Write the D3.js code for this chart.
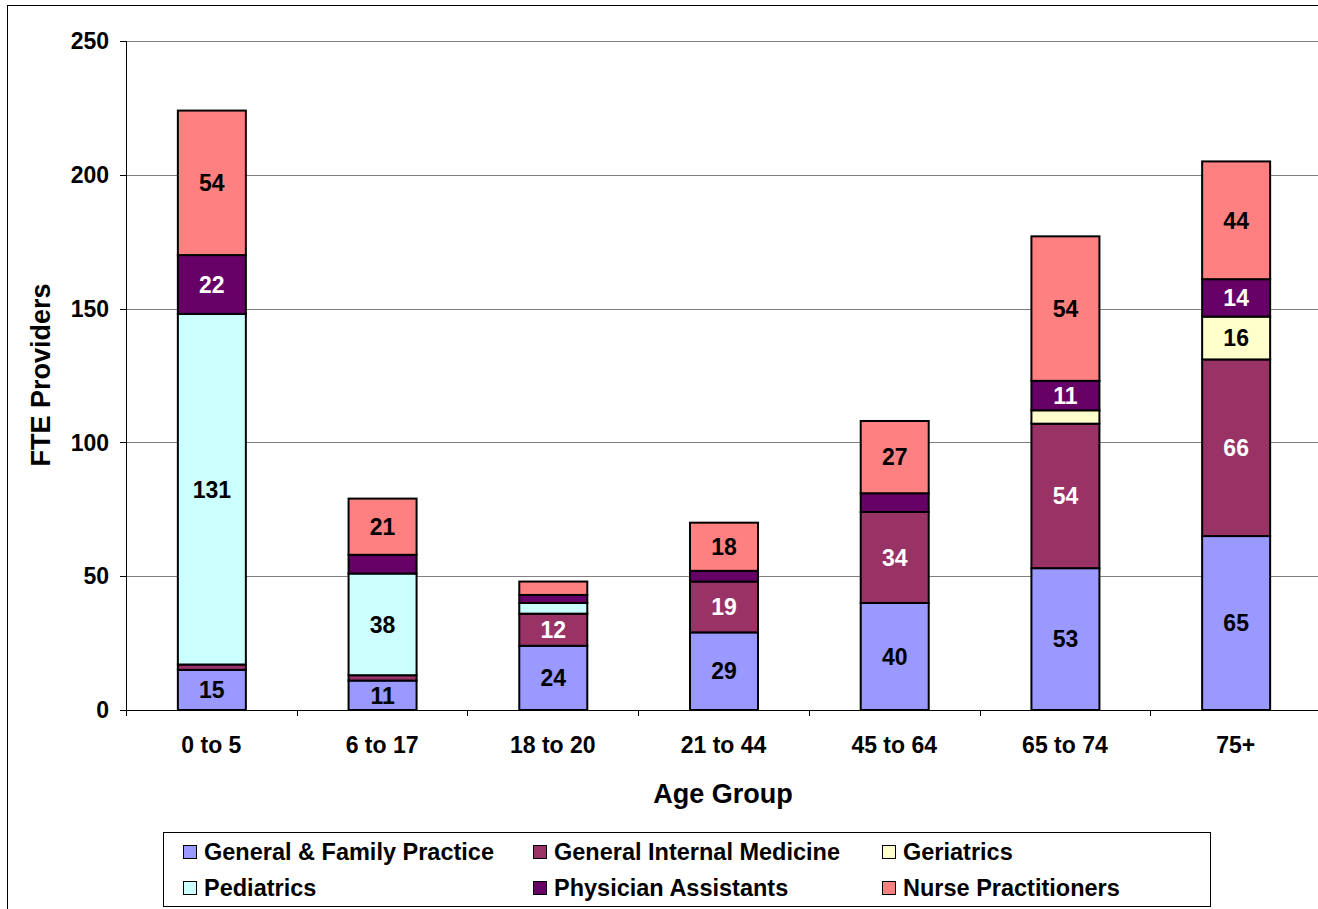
<!DOCTYPE html>
<html>
<head>
<meta charset="utf-8">
<script src="https://cdn.jsdelivr.net/npm/d3@7"></script>
<style>
  html, body { margin: 0; padding: 0; background: #fff; }
  svg { display: block; font-family: "Liberation Sans", Arial, sans-serif; font-weight: bold; }
</style>
</head>
<body>
<svg id="chart" width="1318" height="909"></svg>
<script>
// Age groups along the x axis
const ageGroups = ["0 to 5", "6 to 17", "18 to 20", "21 to 44", "45 to 64", "65 to 74", "75+"];

// FTE providers per specialty, one value per age group
const generalFamily   = [15, 11, 24, 29, 40, 53, 65];
const generalInternal = [2, 2, 12, 19, 34, 54, 66];
const geriatrics      = [0, 0, 0, 0, 0, 5, 16];
const pediatrics      = [131, 38, 4, 0, 0, 0, 0];
const physicianAsst   = [22, 7, 3, 4, 7, 11, 14];
const nursePract      = [54, 21, 5, 18, 27, 54, 44];

const yTicks = [0, 50, 100, 150, 200, 250];

const seriesDefs = [
  { key: "General & Family Practice", values: generalFamily,   color: "#9999FF", text: "#000" },
  { key: "General Internal Medicine", values: generalInternal, color: "#993366", text: "#fff" },
  { key: "Geriatrics",                values: geriatrics,      color: "#FFFFCC", text: "#000" },
  { key: "Pediatrics",                values: pediatrics,      color: "#CCFFFF", text: "#000" },
  { key: "Physician Assistants",      values: physicianAsst,   color: "#660066", text: "#fff" },
  { key: "Nurse Practitioners",       values: nursePract,      color: "#FF8080", text: "#000" }
];

const rows = ageGroups.map((g, i) => {
  const r = { group: g };
  seriesDefs.forEach(s => { r[s.key] = s.values[i]; });
  return r;
});

const svg = d3.select("#chart");
const labelSize = 23;
const legendSize = 23.5;
const titleSize = 27;

// Outer chart frame
svg.append("rect")
  .attr("x", 7.5).attr("y", 5.5)
  .attr("width", 1330).attr("height", 920)
  .attr("fill", "none").attr("stroke", "#000").attr("stroke-width", 1);

const plot = { left: 126, top: 41, right: 1321, bottom: 710 };

const x = d3.scaleBand()
  .domain(ageGroups)
  .range([plot.left, plot.right])
  .paddingInner(0.6)
  .paddingOuter(0.3);

const xBoundary = d3.scaleBand().domain(ageGroups).range([plot.left, plot.right]);

const y = d3.scaleLinear().domain([0, 250]).range([plot.bottom, plot.top]);

// Horizontal gridlines
svg.append("g")
  .selectAll("line")
  .data(yTicks.filter(t => t > 0))
  .join("line")
  .attr("x1", plot.left).attr("x2", plot.right)
  .attr("y1", d => Math.round(y(d)) + 0.5).attr("y2", d => Math.round(y(d)) + 0.5)
  .attr("stroke", "#808080").attr("stroke-width", 1);

// Stacked bars
const stack = d3.stack().keys(seriesDefs.map(s => s.key));
const stacked = stack(rows);

const barW = 68;
const layers = svg.append("g").selectAll("g")
  .data(stacked)
  .join("g")
  .attr("fill", (d, i) => seriesDefs[i].color);

layers.selectAll("rect")
  .data(d => d.filter(p => p[1] - p[0] > 0))
  .join("rect")
  .attr("x", d => x(d.data.group) + x.bandwidth() / 2 - barW / 2 + 0.5)
  .attr("width", barW)
  .attr("y", d => y(d[1]))
  .attr("height", d => y(d[0]) - y(d[1]))
  .attr("stroke", "#000").attr("stroke-width", 2);

// Value labels inside segments
stacked.forEach((layer, i) => {
  const def = seriesDefs[i];
  svg.append("g").selectAll("text")
    .data(layer.filter(p => p[1] - p[0] >= 10))
    .join("text")
    .attr("x", d => x(d.data.group) + x.bandwidth() / 2 + 0.5)
    .attr("y", d => (y(d[0]) + y(d[1])) / 2)
    .attr("dy", "0.36em")
    .attr("text-anchor", "middle")
    .attr("font-size", labelSize)
    .attr("fill", def.text)
    .text(d => d.data[def.key]);
});

// Y axis
const yAxis = svg.append("g");
yAxis.append("line")
  .attr("x1", plot.left + 0.5).attr("x2", plot.left + 0.5)
  .attr("y1", plot.top).attr("y2", plot.bottom + 6)
  .attr("stroke", "#000");
yAxis.selectAll("line.tick")
  .data(yTicks)
  .join("line").attr("class", "tick")
  .attr("x1", plot.left - 6).attr("x2", plot.left)
  .attr("y1", d => Math.round(y(d)) + 0.5).attr("y2", d => Math.round(y(d)) + 0.5)
  .attr("stroke", "#000");
yAxis.selectAll("text")
  .data(yTicks)
  .join("text")
  .attr("x", plot.left - 17)
  .attr("y", d => y(d))
  .attr("dy", "0.36em")
  .attr("text-anchor", "end")
  .attr("font-size", labelSize)
  .text(d => d);

// X axis
const xAxis = svg.append("g");
xAxis.append("line")
  .attr("x1", plot.left - 6).attr("x2", plot.right)
  .attr("y1", plot.bottom + 0.5).attr("y2", plot.bottom + 0.5)
  .attr("stroke", "#000");
xAxis.selectAll("line.tick")
  .data(ageGroups.slice(1))
  .join("line").attr("class", "tick")
  .attr("x1", d => Math.round(xBoundary(d)) + 0.5).attr("x2", d => Math.round(xBoundary(d)) + 0.5)
  .attr("y1", plot.bottom).attr("y2", plot.bottom + 6)
  .attr("stroke", "#000");
xAxis.selectAll("text")
  .data(ageGroups)
  .join("text")
  .attr("x", d => x(d) + x.bandwidth() / 2)
  .attr("y", 745)
  .attr("dy", "0.36em")
  .attr("text-anchor", "middle")
  .attr("font-size", labelSize)
  .text(d => d);

// Axis titles
svg.append("text")
  .attr("x", 723).attr("y", 793)
  .attr("dy", "0.36em")
  .attr("text-anchor", "middle")
  .attr("font-size", titleSize)
  .text("Age Group");

svg.append("text")
  .attr("transform", "translate(40,375) rotate(-90)")
  .attr("dy", "0.36em")
  .attr("text-anchor", "middle")
  .attr("font-size", titleSize)
  .text("FTE Providers");

// Legend
const legend = svg.append("g");
legend.append("rect")
  .attr("x", 163.5).attr("y", 832.5)
  .attr("width", 1047).attr("height", 74)
  .attr("fill", "#fff").attr("stroke", "#000");

const colX = [183, 533, 882];
const rowY = [852, 888];
const items = legend.selectAll("g.item")
  .data(seriesDefs)
  .join("g").attr("class", "item")
  .attr("transform", (d, i) => `translate(${colX[i % 3]},${rowY[Math.floor(i / 3)]})`);
items.append("rect")
  .attr("x", 0.5).attr("y", -6.5)
  .attr("width", 13).attr("height", 13)
  .attr("fill", d => d.color).attr("stroke", "#000");
items.append("text")
  .attr("x", 21).attr("y", 0)
  .attr("dy", "0.36em")
  .attr("font-size", legendSize)
  .text(d => d.key);
</script>
</body>
</html>
